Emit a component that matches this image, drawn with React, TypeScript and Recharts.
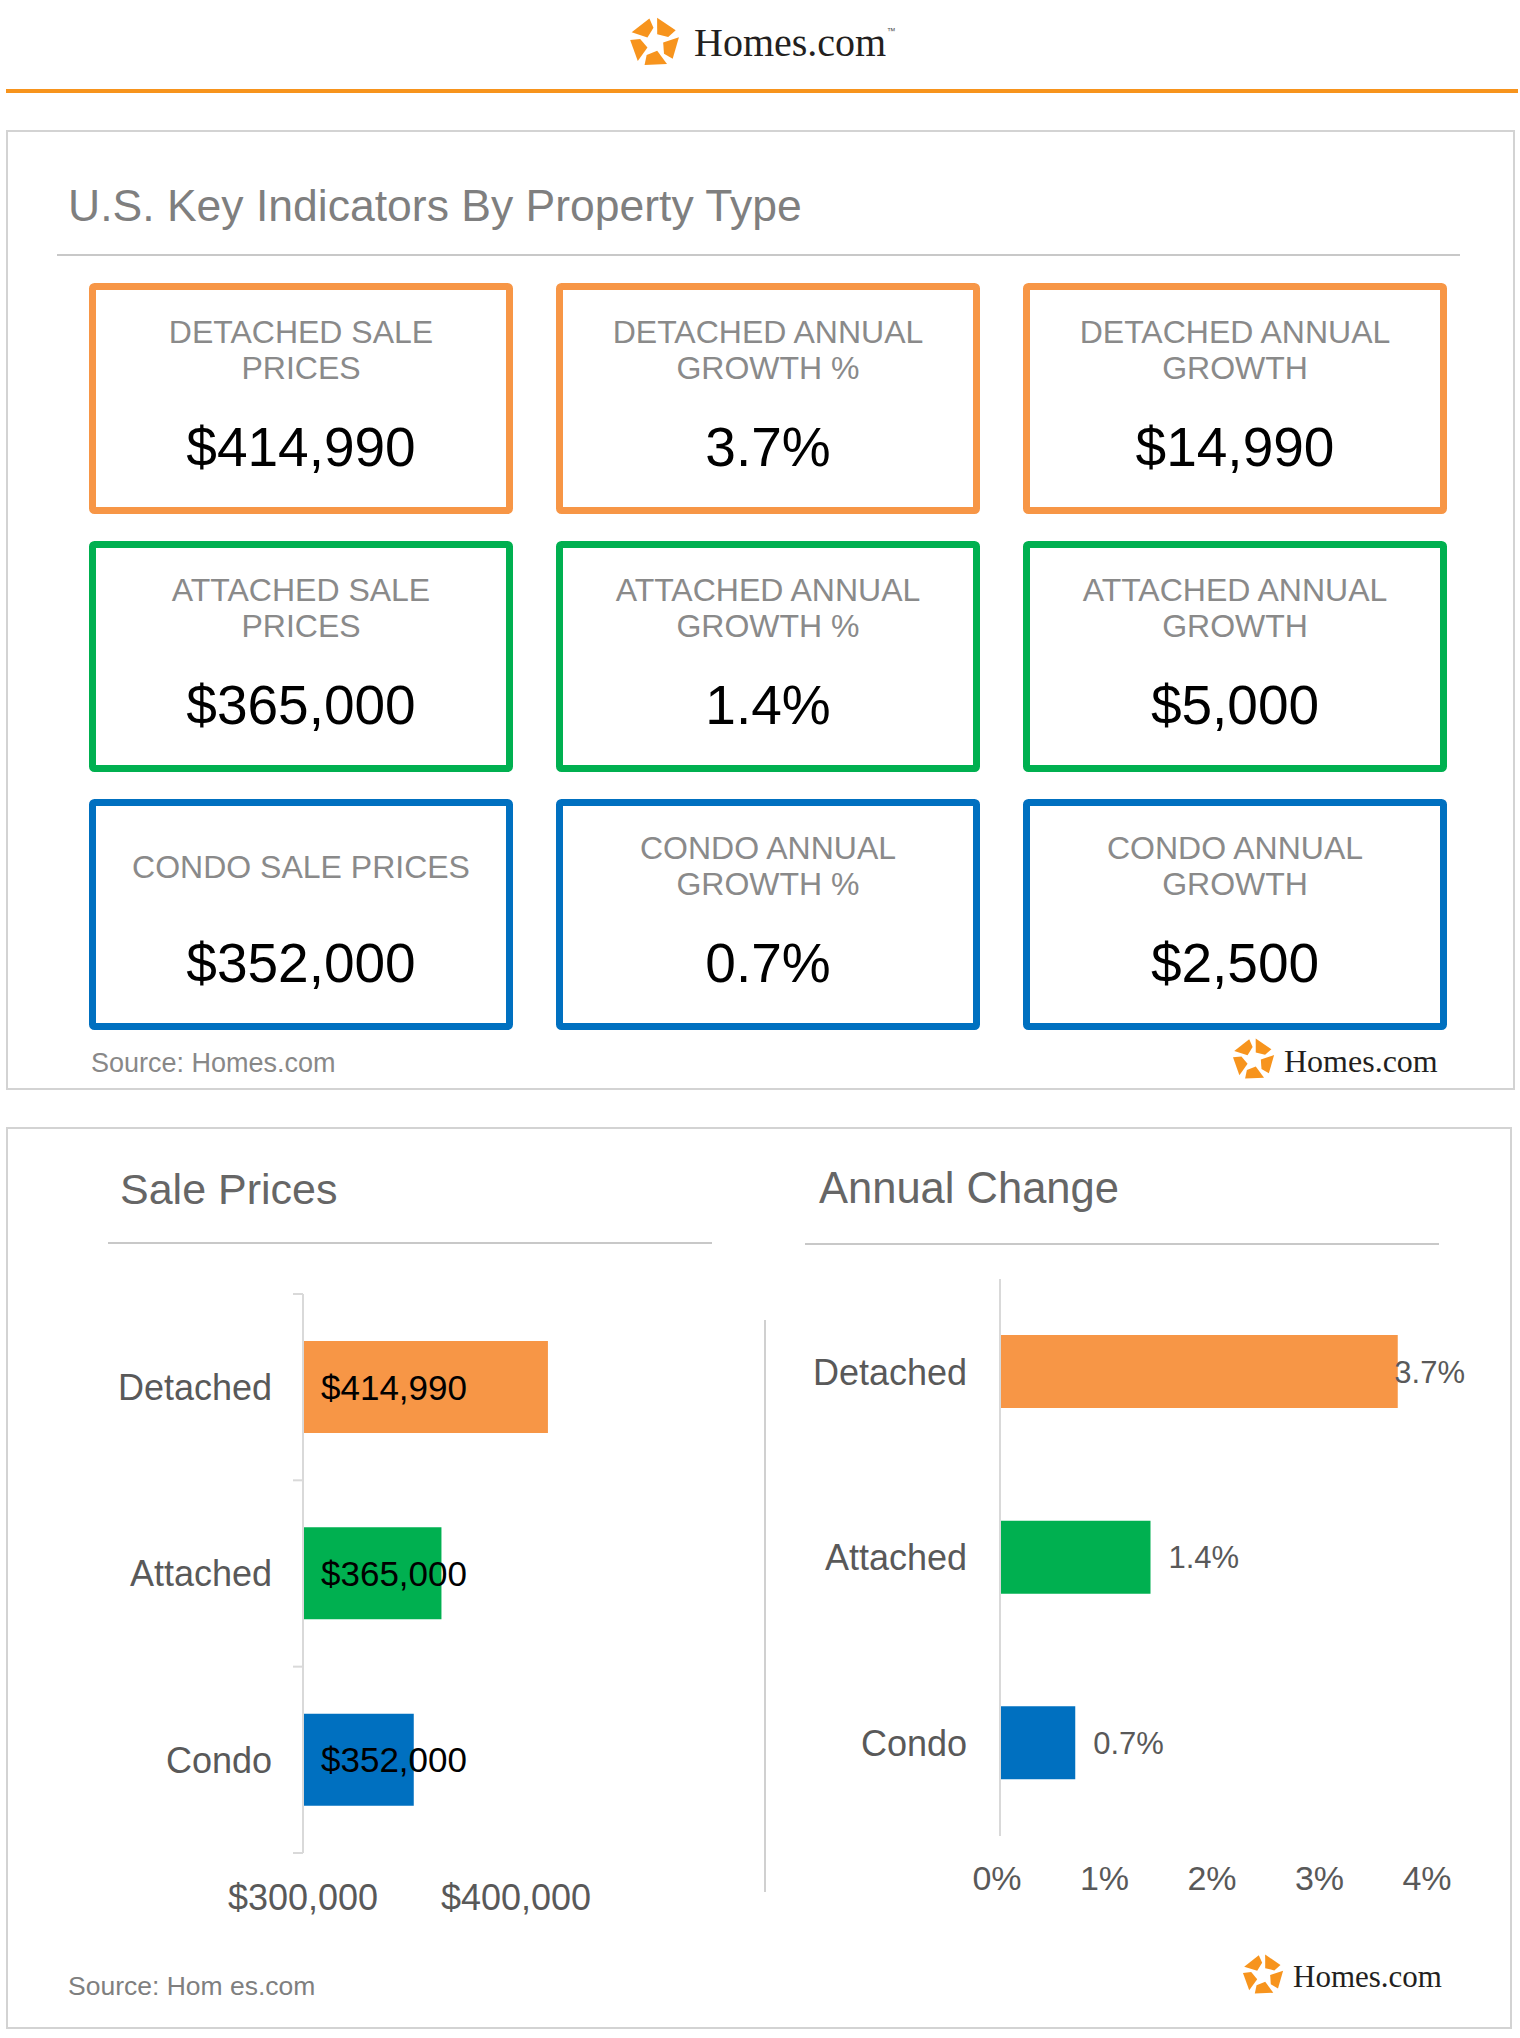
import { BarChart, Bar, XAxis, YAxis, Cell, LabelList } from "recharts"

const categories = ["Detached", "Attached", "Condo"]
const salePrices = [414990, 365000, 352000]
const growthPct = [3.7, 1.4, 0.7]
const growthAmount = [14990, 5000, 2500]
const typeColors = ["#F79646", "#00B050", "#0070C0"]
const priceTicks = [300000, 400000]
const pctTicks = [0, 1, 2, 3, 4]
const cardTitles = [
  [["DETACHED SALE", "PRICES"], ["DETACHED ANNUAL", "GROWTH %"], ["DETACHED ANNUAL", "GROWTH"]],
  [["ATTACHED SALE", "PRICES"], ["ATTACHED ANNUAL", "GROWTH %"], ["ATTACHED ANNUAL", "GROWTH"]],
  [["CONDO SALE PRICES"], ["CONDO ANNUAL", "GROWTH %"], ["CONDO ANNUAL", "GROWTH"]],
]

const FONT = "'Liberation Sans', Arial, sans-serif"
const SERIF = "'Liberation Serif', 'Times New Roman', serif"
const LOGO_ORANGE = "#F7941D"

const money = (v: number) => "$" + v.toLocaleString("en-US")
const pct = (v: number) => `${v}%`

const saleData = categories.map((name, i) => ({ name, value: salePrices[i] }))
const changeData = categories.map((name, i) => ({ name, value: growthPct[i] }))

// chart geometry
const AXIS_H = 60
const SALE_W = 640, SALE_H = 673
const SALE_M = { top: 34, right: 11, bottom: 20, left: 0 }
const SALE_PLOT_H = SALE_H - SALE_M.top - SALE_M.bottom - AXIS_H
const CHG_W = 710, CHG_H = 671
const CHG_M = { top: 34, right: 60, bottom: 20, left: 0 }

const cardCols = [89, 556, 1023]
const cardRows = [283, 541, 799]
const CARD_W = 424, CARD_H = 231

function polar(r: number, deg: number) {
  const a = (deg * Math.PI) / 180
  return `${(50 + r * Math.cos(a)).toFixed(1)},${(50 + r * Math.sin(a)).toFixed(1)}`
}

function Logo({ x, y, size, textX, baseline, fontSize, tm }: any) {
  const pieces = [0, 1, 2, 3, 4].map(k => {
    const c = -126 + 72 * k
    return [polar(49, c - 30), polar(48, c + 24), polar(29, c + 32), polar(17, c - 18)].join(" ")
  })
  return (
    <g>
      <g transform={`translate(${x},${y}) scale(${size / 100})`}>
        {pieces.map((p, i) => <polygon key={i} points={p} fill={LOGO_ORANGE} />)}
      </g>
      <text x={textX} y={baseline} fontFamily={SERIF} fontSize={fontSize} fill="#231F20">Homes.com</text>
      {tm && <text x={textX + fontSize * 4.82} y={baseline - fontSize * 0.55} fontFamily={FONT} fontSize={fontSize * 0.22} fill="#555">™</text>}
    </g>
  )
}

function Card({ x, y, color, lines, value }: any) {
  const cx = x + CARD_W / 2
  return (
    <g>
      <rect x={x + 3.5} y={y + 3.5} width={CARD_W - 7} height={CARD_H - 7} rx={2} fill="#fff" stroke={color} strokeWidth={7} />
      {lines.length === 1 ? (
        <text x={cx} y={y + 79} textAnchor="middle" fontFamily={FONT} fontSize={32} fill="#8a8a8a">{lines[0]}</text>
      ) : (
        lines.map((l: string, i: number) => (
          <text key={i} x={cx} y={y + 60 + i * 36} textAnchor="middle" fontFamily={FONT} fontSize={32} fill="#8a8a8a">{l}</text>
        ))
      )}
      <text x={cx} y={y + 183} textAnchor="middle" fontFamily={FONT} fontSize={55} fill="#000">{value}</text>
    </g>
  )
}

function SaleCategoryTick(props: any) {
  const { x, y, payload, index } = props
  const half = SALE_PLOT_H / categories.length / 2
  return (
    <g>
      <line x1={x - 10} x2={x} y1={y - half} y2={y - half} stroke="#d9d9d9" strokeWidth={2} />
      {index === categories.length - 1 && (
        <line x1={x - 10} x2={x} y1={y + half} y2={y + half} stroke="#d9d9d9" strokeWidth={2} />
      )}
      <text x={x - 31} y={y} dy="0.36em" textAnchor="end" fontFamily={FONT} fontSize={36} fill="#595959">{payload.value}</text>
    </g>
  )
}

function ChangeCategoryTick(props: any) {
  const { x, y, payload } = props
  return (
    <text x={x - 33} y={y} dy="0.36em" textAnchor="end" fontFamily={FONT} fontSize={36} fill="#595959">{payload.value}</text>
  )
}

function PriceTick(props: any) {
  const { x, y, payload } = props
  return (
    <text x={x} y={y + 57} textAnchor="middle" fontFamily={FONT} fontSize={36} fill="#595959">{money(payload.value)}</text>
  )
}

function PctTick(props: any) {
  const { x, y, payload } = props
  return (
    <text x={x - 3} y={y + 54} textAnchor="middle" fontFamily={FONT} fontSize={34} fill="#595959">{pct(payload.value)}</text>
  )
}

function SaleLabel(props: any) {
  const { x, y, height, value } = props
  return (
    <text x={x + 18} y={y + height / 2} dy="0.36em" fontFamily={FONT} fontSize={35} fill="#000">{money(Number(value))}</text>
  )
}

function ChangeLabel(props: any) {
  const { x, y, width, height, value } = props
  const limit = CHG_W - 25
  let lx = x + width + 18
  let anchor = "start"
  if (lx + 72 > limit) { lx = limit; anchor = "end" }
  return (
    <text x={lx} y={y + height / 2} dy="0.36em" textAnchor={anchor} fontFamily={FONT} fontSize={31} fill="#595959">{pct(Number(value))}</text>
  )
}

export default function App() {
  const cardValues = [
    salePrices.map(money),
    growthPct.map(pct),
    growthAmount.map(money),
  ]
  return (
    <div style={{ position: "absolute", left: 0, top: 0, width: 1520, height: 2038, background: "#fff", overflow: "hidden" }}>
      <svg width={1520} height={2038} style={{ position: "absolute", left: 0, top: 0 }}>
        <Logo x={629} y={17} size={51} textX={694} baseline={56} fontSize={40} tm />
        <rect x={6} y={89} width={1512} height={4} fill={LOGO_ORANGE} />

        <rect x={7} y={131} width={1507} height={958} fill="none" stroke="#d3d3d3" strokeWidth={2} />
        <text x={68} y={221} fontFamily={FONT} fontSize={44.5} fill="#7f7f7f">U.S. Key Indicators By Property Type</text>
        <line x1={57} x2={1460} y1={255} y2={255} stroke="#c8c8c8" strokeWidth={2} />
        {cardRows.map((ry, r) =>
          cardCols.map((cx, c) => (
            <Card key={`${r}-${c}`} x={cx} y={ry} color={typeColors[r]} lines={cardTitles[r][c]} value={cardValues[c][r]} />
          ))
        )}
        <text x={91} y={1072} fontFamily={FONT} fontSize={27} fill="#888">Source: Homes.com</text>
        <Logo x={1232} y={1038} size={43} textX={1284} baseline={1072} fontSize={32} />

        <rect x={7} y={1128} width={1504} height={900} fill="none" stroke="#d3d3d3" strokeWidth={2} />
        <text x={120} y={1204} fontFamily={FONT} fontSize={43} fill="#666">Sale Prices</text>
        <line x1={108} x2={712} y1={1243} y2={1243} stroke="#c8c8c8" strokeWidth={2} />
        <text x={819} y={1203} fontFamily={FONT} fontSize={43.5} fill="#666">Annual Change</text>
        <line x1={805} x2={1439} y1={1244} y2={1244} stroke="#c8c8c8" strokeWidth={2} />
        <line x1={765} x2={765} y1={1320} y2={1892} stroke="#d0d0d0" strokeWidth={2} />
        <text x={68} y={1995} fontFamily={FONT} fontSize={26.5} fill="#7f7f7f">Source: Hom es.com</text>
        <Logo x={1242} y={1954} size={42} textX={1293} baseline={1987} fontSize={31} />
      </svg>

      <div style={{ position: "absolute", left: 100, top: 1260 }}>
        <BarChart width={SALE_W} height={SALE_H} data={saleData} layout="vertical" margin={SALE_M}>
          <XAxis type="number" domain={[300000, 500000]} ticks={priceTicks} height={AXIS_H}
            axisLine={false} tickLine={false} tickSize={0} tickMargin={0} tick={<PriceTick />} />
          <YAxis type="category" dataKey="name" width={203} interval={0}
            axisLine={{ stroke: "#d9d9d9", strokeWidth: 2 }} tickLine={false} tickSize={0} tickMargin={0} tick={<SaleCategoryTick />} />
          <Bar dataKey="value" barSize={92} isAnimationActive={false}>
            {saleData.map((d, i) => <Cell key={d.name} fill={typeColors[i]} />)}
            <LabelList dataKey="value" content={<SaleLabel />} />
          </Bar>
        </BarChart>
      </div>

      <div style={{ position: "absolute", left: 780, top: 1245 }}>
        <BarChart width={CHG_W} height={CHG_H} data={changeData} layout="vertical" margin={CHG_M}>
          <XAxis type="number" domain={[0, 4]} ticks={pctTicks} height={AXIS_H}
            axisLine={false} tickLine={false} tickSize={0} tickMargin={0} tick={<PctTick />} />
          <YAxis type="category" dataKey="name" width={220} interval={0}
            axisLine={{ stroke: "#d9d9d9", strokeWidth: 2 }} tickLine={false} tickSize={0} tickMargin={0} tick={<ChangeCategoryTick />} />
          <Bar dataKey="value" barSize={73} isAnimationActive={false}>
            {changeData.map((d, i) => <Cell key={d.name} fill={typeColors[i]} />)}
            <LabelList dataKey="value" content={<ChangeLabel />} />
          </Bar>
        </BarChart>
      </div>
    </div>
  )
}
